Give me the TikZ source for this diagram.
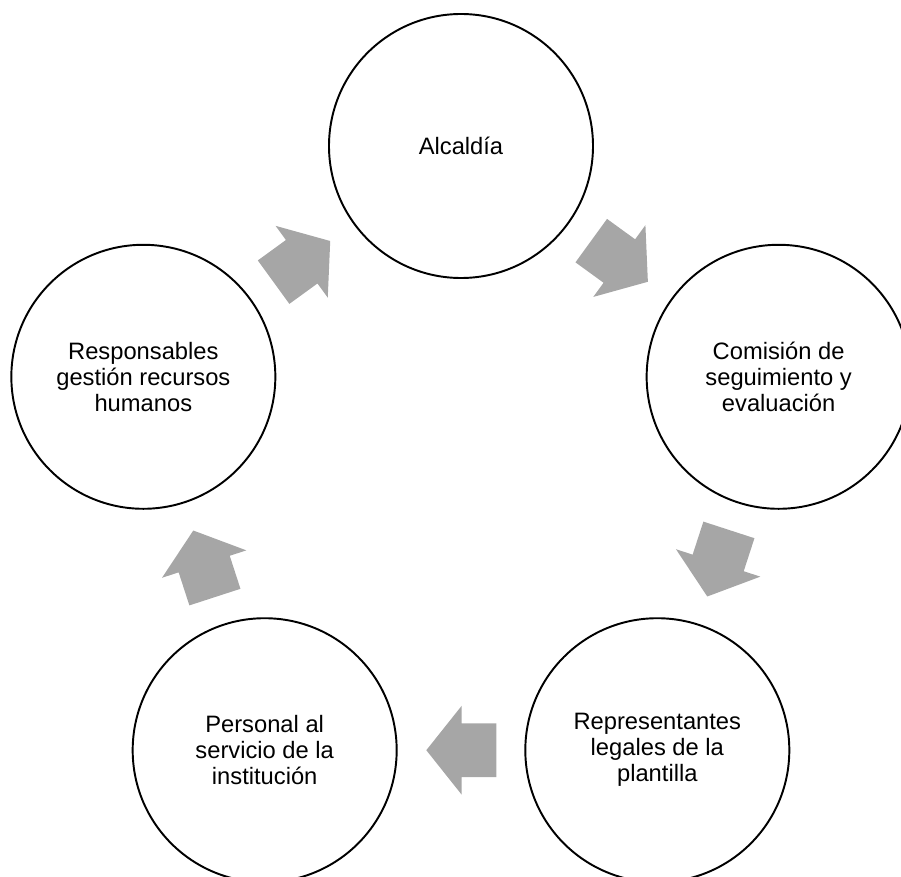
\documentclass[tikz,border=0pt]{standalone}
\usepackage{fontspec}
\setmainfont{Liberation Sans}
\usetikzlibrary{shapes.arrows,calc}
\definecolor{grisflecha}{HTML}{A6A6A6}

\begin{document}
\begin{tikzpicture}[
    circulo/.style={circle,draw,line width=1.1pt,minimum size=5.28cm,inner sep=0pt,
      align=center,font=\fontsize{13.5}{14.8}\selectfont},
    flecha/.style={single arrow,fill=grisflecha,draw=none,inner xsep=0pt,inner ysep=0.53cm,
      minimum height=1.4cm,minimum width=1.76cm,single arrow head extend=0.35cm,
      single arrow tip angle=103,single arrow head indent=0pt}]
  \useasboundingbox (-9.22,-7.92) rectangle (8.80,9.60);

  \node[circulo] (alc) at (90:6.68) {Alcaldía};
  \node[circulo] (com) at (18:6.68) {Comisión de\\seguimiento y\\evaluación};
  \node[circulo] (rep) at (-54:6.68) {Representantes\\legales de la\\plantilla};
  \node[circulo] (per) at (-126:6.68) {Personal al\\servicio de la\\institución};
  \node[circulo] (res) at (162:6.68) {Responsables\\gestión recursos\\humanos};

  \foreach \a/\b/\ang in {alc/com/-36,com/rep/-108,rep/per/180,per/res/108,res/alc/36}
    \node[flecha,rotate=\ang] (f-\a) at ($($(\a)!0.5!(\b)$)!0.22cm!(\a)$) {};
\end{tikzpicture}
\end{document}
